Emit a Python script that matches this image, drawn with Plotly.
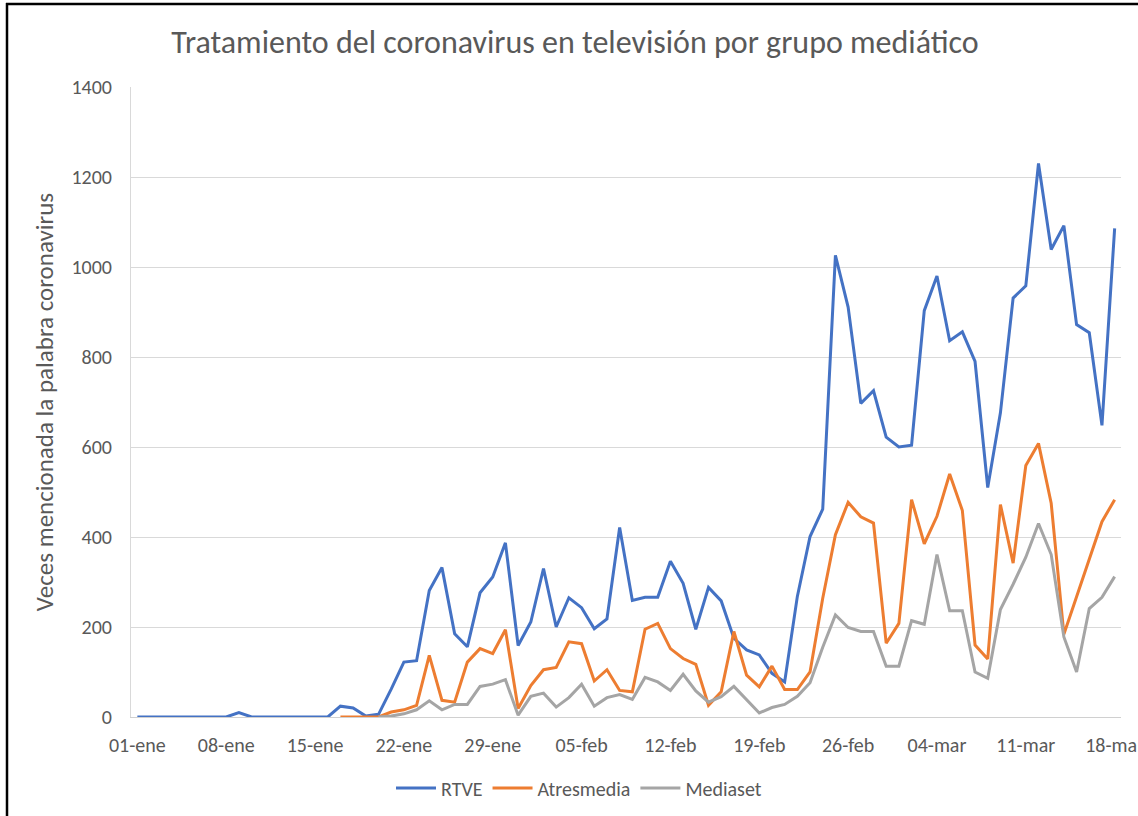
import pandas as pd
import plotly.graph_objects as go

# Daily mentions of "coronavirus" on TV, 01-ene .. 18-mar 2020
dates = pd.date_range("2020-01-01", "2020-03-18", freq="D")

rtve = [0, 0, 0, 0, 0, 0, 0, 0, 10, 0,
        0, 0, 0, 0, 0, 0, 24, 20, 2, 6,
        62, 122, 125, 281, 332, 185, 156, 276, 311, 387,
        159, 211, 330, 200, 265, 243, 196, 218, 421, 259,
        266, 266, 346, 297, 195, 288, 258, 175, 149, 138,
        97, 78, 268, 401, 462, 1026, 911, 697, 725, 622,
        600, 604, 903, 980, 836, 856, 790, 510, 676, 931,
        958, 1230, 1039, 1092, 872, 854, 648, 1086]

atresmedia = [None] * 16 + [
        0, 0, 0, 0,
        11, 16, 26, 137, 37, 33, 122, 152, 141, 194,
        19, 70, 105, 110, 167, 163, 80, 105, 59, 56,
        195, 208, 152, 130, 117, 26, 56, 190, 93, 67,
        113, 61, 61, 100, 264, 405, 477, 445, 431, 164,
        208, 483, 385, 446, 540, 459, 160, 129, 472, 342,
        559, 608, 475, 184, 267, 350, 434, 483]

mediaset = [None] * 19 + [
        0,
        2, 7, 16, 36, 16, 28, 28, 68, 73, 83,
        4, 46, 53, 22, 43, 73, 24, 43, 50, 39,
        88, 78, 59, 95, 58, 33, 45, 68, 39, 9,
        21, 28, 46, 76, 155, 227, 199, 190, 190, 113,
        113, 214, 206, 361, 236, 236, 100, 86, 239, 295,
        355, 430, 361, 178, 100, 241, 266, 312]

tick_labels = ["01-ene", "08-ene", "15-ene", "22-ene", "29-ene", "05-feb",
               "12-feb", "19-feb", "26-feb", "04-mar", "11-mar", "18-mar"]

series = [("RTVE", rtve, "#4472C4"),
          ("Atresmedia", atresmedia, "#ED7D31"),
          ("Mediaset", mediaset, "#A5A5A5")]

FONT = "Carlito, Lato, sans-serif"
TEXT = "#595959"

fig = go.Figure()
for name, vals, color in series:
    fig.add_trace(go.Scatter(x=dates, y=vals, name=name, mode="lines",
                             line=dict(color=color, width=3),
                             connectgaps=False))

fig.update_layout(
    width=1138, height=816,
    paper_bgcolor="white", plot_bgcolor="white",
    margin=dict(l=131, r=17, t=87, b=99, autoexpand=False),
    font=dict(family=FONT, size=20, color=TEXT),
    title=dict(text="Tratamiento del coronavirus en televisión por grupo mediático",
               x=575 / 1138, xanchor="center", xref="container",
               y=1 - 42 / 816, yanchor="middle", yref="container",
               font=dict(family=FONT, size=32, color=TEXT)),
    legend=dict(orientation="h", x=579 / 1138, xanchor="center", xref="container",
                y=1 - 788 / 816, yanchor="middle", yref="container",
                font=dict(size=20, color=TEXT), itemwidth=40),
    showlegend=True,
)

fig.update_xaxes(
    range=[dates[0] - pd.Timedelta(hours=12), dates[-1] + pd.Timedelta(hours=12)],
    tickvals=dates[::7], ticktext=tick_labels,
    ticklabeloverflow="allow", automargin=False,
    showgrid=False, showline=True, linecolor="#d0d0d0", linewidth=1,
    ticks="outside", ticklen=10, tickcolor="rgba(0,0,0,0)",
    zeroline=False,
)
fig.update_yaxes(
    range=[0, 1400], dtick=200, automargin=False,
    showgrid=True, gridcolor="#d9d9d9", gridwidth=1,
    showline=True, linecolor="#d9d9d9", linewidth=1,
    ticks="outside", ticklen=14, tickcolor="rgba(0,0,0,0)",
    zeroline=False,
    title=dict(text="Veces mencionada la palabra coronavirus",
               font=dict(family=FONT, size=25, color=TEXT), standoff=10),
)

# chart border (top and left edges visible in the cropped original)
fig.add_shape(type="line", xref="paper", yref="paper",
              x0=(6 - 131) / 990, x1=(1140 - 131) / 990,
              y0=(717 - 4) / 630, y1=(717 - 4) / 630,
              line=dict(color="black", width=2.5))
fig.add_shape(type="line", xref="paper", yref="paper",
              x0=(7 - 131) / 990, x1=(7 - 131) / 990,
              y0=(717 - 3) / 630, y1=(717 - 820) / 630,
              line=dict(color="black", width=2.5))

fig.write_html("out.html", config={"displayModeBar": False},
               post_script="document.body.style.margin='0';")
